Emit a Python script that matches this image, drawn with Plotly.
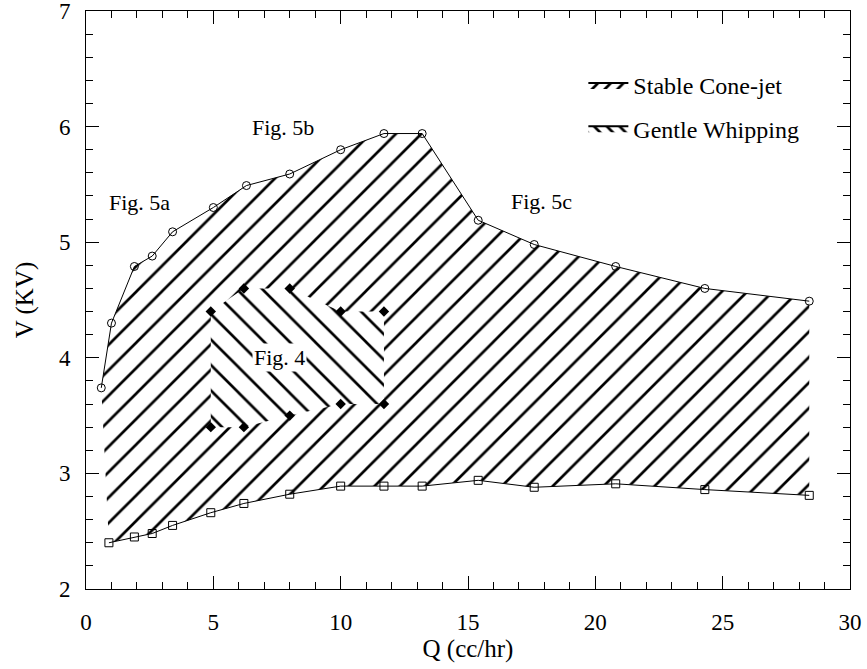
import plotly.graph_objects as go

# Upper boundary (open circles)
q_upper = [0.6, 1.0, 1.9, 2.6, 3.4, 5.0, 6.3, 8.0, 10.0, 11.7, 13.2, 15.4, 17.6, 20.8, 24.3, 28.4]
v_upper = [3.74, 4.30, 4.79, 4.88, 5.09, 5.30, 5.49, 5.59, 5.80, 5.94, 5.94, 5.19, 4.98, 4.79, 4.60, 4.49]

# Lower boundary (open squares)
q_lower = [0.9, 1.9, 2.6, 3.4, 4.9, 6.2, 8.0, 10.0, 11.7, 13.2, 15.4, 17.6, 20.8, 24.3, 28.4]
v_lower = [2.40, 2.45, 2.48, 2.55, 2.66, 2.74, 2.82, 2.89, 2.89, 2.89, 2.94, 2.88, 2.91, 2.86, 2.81]

# Gentle whipping boundary (filled diamonds)
q_whip = [4.9, 6.2, 8.0, 10.0, 11.7]
v_whip_top = [4.4, 4.6, 4.6, 4.4, 4.4]
v_whip_bot = [3.4, 3.4, 3.5, 3.6, 3.6]

fig_labels = ["Fig. 5a", "Fig. 5b", "Fig. 5c", "Fig. 4"]
fig_label_q = [2.1, 7.75, 17.9, 7.6]
fig_label_v = [5.34, 5.99, 5.35, 4.0]

legend_names = ["Stable Cone-jet", "Gentle Whipping"]

FONT = "Liberation Serif"
HATCH = 18
SOL = 0.15

fig = go.Figure()

# Stable cone-jet region
fig.add_trace(go.Scatter(
    x=q_upper + q_lower[::-1], y=v_upper + v_lower[::-1],
    mode="lines", fill="toself", line=dict(width=0, color="black"),
    fillcolor="white",
    fillpattern=dict(shape="/", size=HATCH, solidity=SOL, fgcolor="black",
                     bgcolor="white", fgopacity=1),
    showlegend=False, hoverinfo="skip"))

# Gentle whipping region
fig.add_trace(go.Scatter(
    x=q_whip + q_whip[::-1], y=v_whip_top + v_whip_bot[::-1],
    mode="lines", fill="toself", line=dict(width=0, color="black"),
    fillcolor="white",
    fillpattern=dict(shape="\\", size=HATCH, solidity=SOL, fgcolor="black",
                     bgcolor="white", fgopacity=1),
    showlegend=False, hoverinfo="skip"))

# Boundaries
fig.add_trace(go.Scatter(
    x=q_upper, y=v_upper, mode="lines+markers",
    line=dict(color="black", width=1),
    marker=dict(symbol="circle-open", size=8, color="black", line=dict(width=1)),
    showlegend=False))
fig.add_trace(go.Scatter(
    x=q_lower, y=v_lower, mode="lines+markers",
    line=dict(color="black", width=1),
    marker=dict(symbol="square-open", size=8, color="black", line=dict(width=1)),
    showlegend=False))
fig.add_trace(go.Scatter(
    x=q_whip + q_whip, y=v_whip_top + v_whip_bot, mode="markers",
    marker=dict(symbol="diamond", size=8, color="black"),
    showlegend=False))

# Legend entries
for name, shp, grp in zip(legend_names, ["/", "\\"], ["a", "b"]):
    fig.add_trace(go.Scatter(
        x=[None], y=[None], mode="lines", fill="toself", name=name, legendgroup=grp,
        line=dict(width=2, color="black"), fillcolor="white",
        fillpattern=dict(shape=shp, size=9, solidity=0.3, fgcolor="black",
                         bgcolor="white", fgopacity=1)))

for t, qx, vy in zip(fig_labels, fig_label_q, fig_label_v):
    fig.add_annotation(x=qx, y=vy, text=t, showarrow=False, bgcolor="white",
                       font=dict(family=FONT, size=22, color="black"))

axis_common = dict(
    showline=True, linecolor="black", linewidth=1, mirror="ticks",
    ticks="inside", ticklen=13, tickwidth=1, tickcolor="black",
    showgrid=False, zeroline=False, automargin=False,
    ticklabeloverflow="allow",
    tickfont=dict(family=FONT, size=23, color="black"),
)

fig.update_xaxes(range=[0, 30], dtick=5, tick0=0,
                 minor=dict(dtick=1, ticks="inside", ticklen=7, tickcolor="black", showgrid=False),
                 title=dict(text="Q (cc/hr)", font=dict(family=FONT, size=25, color="black"), standoff=0),
                 ticklabelstandoff=12,
                 **axis_common)
fig.update_yaxes(range=[2, 7], dtick=1, tick0=2,
                 minor=dict(dtick=0.2, ticks="inside", ticklen=7, tickcolor="black", showgrid=False),
                 title=dict(text="V (KV)", font=dict(family=FONT, size=25, color="black"), standoff=18),
                 ticklabelstandoff=10,
                 **axis_common)

fig.update_layout(
    width=867, height=669,
    margin=dict(l=86, r=17, t=11, b=80),
    plot_bgcolor="white", paper_bgcolor="white",
    font=dict(family=FONT, color="black"),
    legend=dict(x=0.651, y=0.91, xanchor="left", yanchor="top",
                font=dict(family=FONT, size=24, color="black"),
                bgcolor="rgba(0,0,0,0)", tracegroupgap=9, itemwidth=40),
)

# remove the browser's default 8px body margin so the figure sits at the page origin
fig.write_html("out.html", config={"displayModeBar": False},
               post_script="document.body.style.margin='0';")
